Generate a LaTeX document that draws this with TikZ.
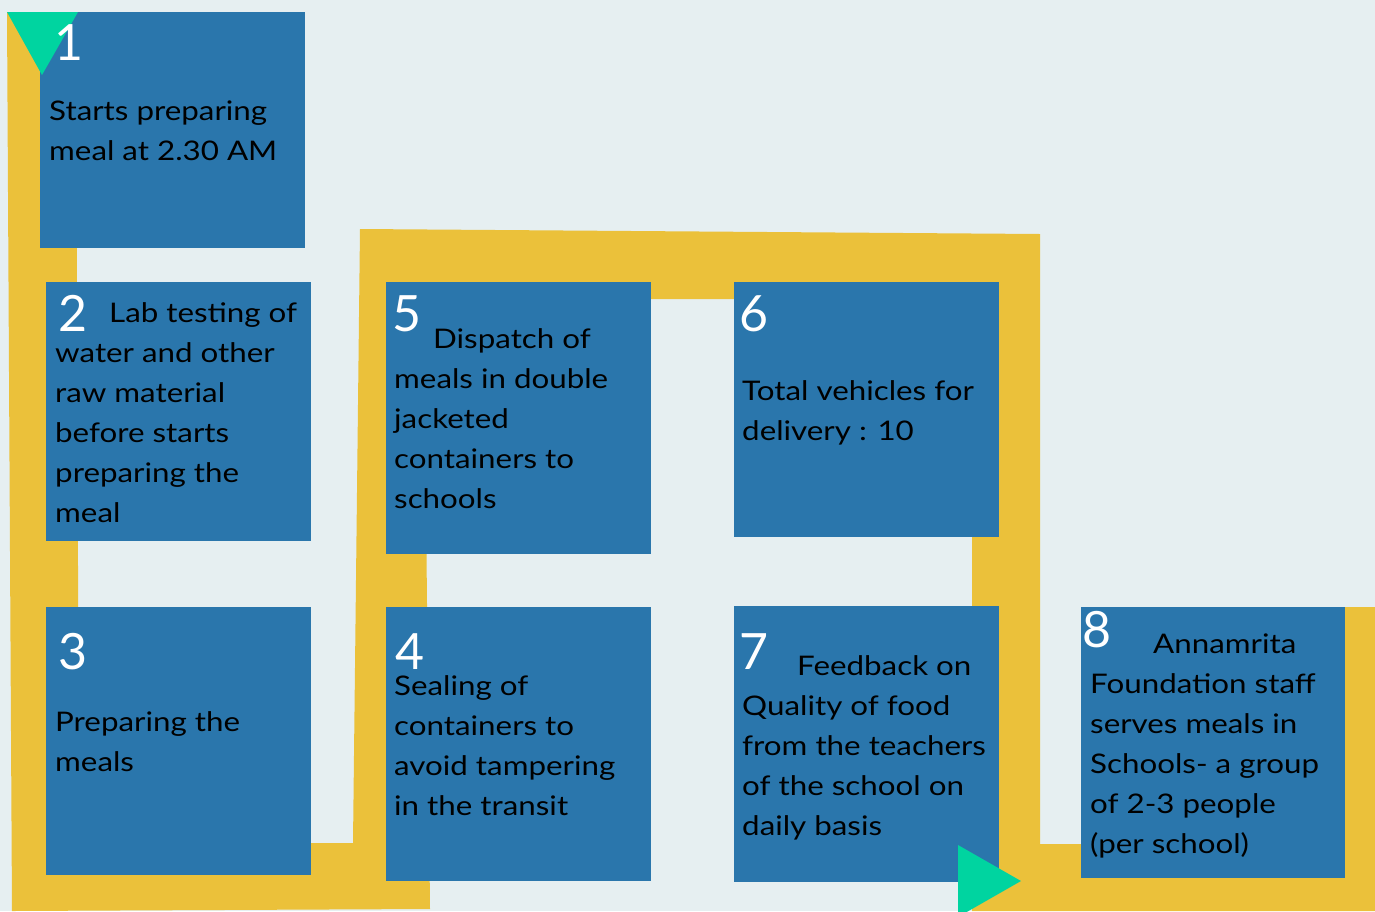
\documentclass[tikz,border=0pt]{standalone}
\usepackage{fontspec}
\setmainfont{Lato}[FakeStretch=1.16]
\newfontfamily\numfont{Lato}
\definecolor{bgc}{HTML}{E6EFF1}
\definecolor{ylw}{HTML}{EBC13A}
\definecolor{blu}{HTML}{2A76AC}
\definecolor{grn}{HTML}{00D4A0}
\tikzset{
  stepbox/.style={fill=blu, draw=none, inner sep=0pt, anchor=north west},
  numtxt/.style={text=white, font=\numfont\fontsize{50}{50}\selectfont, inner sep=0pt, anchor=base west},
  bodytxt/.style={text=black, font=\fontsize{27}{40}\selectfont, inner sep=0pt, anchor=north west, align=left},
}
\newcommand{\fl}{\rule{0pt}{30pt}}
\begin{document}
\begin{tikzpicture}[x=1pt,y=-1pt]
\useasboundingbox (0,0) rectangle (1375,911);
\fill[bgc] (0,0) rectangle (1375,911);
% yellow path band
\fill[ylw] (7,12) -- (76,12) -- (79,843) -- (353,843) -- (360,229) -- (1040,234) -- (1040,844)
  -- (1305,844) -- (1305,607) -- (1375,607) -- (1375,911) -- (972,911) -- (972,299)
  -- (424,299) -- (430,909) -- (12,911) -- cycle;
% boxes
\node[stepbox, minimum width=265pt, minimum height=236pt] (b1) at (40,12) {};
\node[stepbox, minimum width=265pt, minimum height=259pt] (b2) at (46,282) {};
\node[stepbox, minimum width=265pt, minimum height=268pt] (b3) at (46,607) {};
\node[stepbox, minimum width=265pt, minimum height=274pt] (b4) at (386,607) {};
\node[stepbox, minimum width=265pt, minimum height=272pt] (b5) at (386,282) {};
\node[stepbox, minimum width=265pt, minimum height=255pt] (b6) at (734,282) {};
\node[stepbox, minimum width=265pt, minimum height=276pt] (b7) at (734,606) {};
\node[stepbox, minimum width=264pt, minimum height=271pt] (b8) at (1081,607) {};
% triangles
\fill[grn] (7,12) -- (78,12) -- (42,75) -- cycle;
\fill[grn] (958,845) -- (1021,881) -- (958,917) -- cycle;
% numbers
\node[numtxt] (n1) at (54,60) {1};
\node[numtxt] (n2) at (58,331) {2};
\node[numtxt] (n3) at (58,669) {3};
\node[numtxt] (n4) at (395,669) {4};
\node[numtxt] (n5) at (392,331) {5};
\node[numtxt] (n6) at (739,331) {6};
\node[numtxt] (n7) at (739,669) {7};
\node[numtxt] (n8) at (1082,647) {8};
% texts
\node[bodytxt] (t1) at (49,90) {\fl Starts preparing\\meal at 2.30 AM};
\node[bodytxt] (t2) at (55,292) {\fl\hspace*{54pt}Lab testing of\\water and other\\raw material\\before starts\\preparing the\\meal};
\node[bodytxt] (t3) at (55,701) {\fl Preparing the\\meals};
\node[bodytxt] (t4) at (394,665) {\fl Sealing of\\containers to\\avoid tampering\\in the transit};
\node[bodytxt] (t5) at (394,318) {\fl\hspace*{39pt}Dispatch of\\meals in double\\jacketed\\containers to\\schools};
\node[bodytxt] (t6) at (742,370) {\fl Total vehicles for\\delivery : 10};
\node[bodytxt] (t7) at (742,645) {\fl\hspace*{55pt}Feedback on\\Quality of food\\from the teachers\\of the school on\\daily basis};
\node[bodytxt] (t8) at (1090,623) {\fl\hspace*{63pt}Annamrita\\Foundation staff\\serves meals in\\Schools- a group\\of 2-3 people\\(per school)};
\end{tikzpicture}
\end{document}
